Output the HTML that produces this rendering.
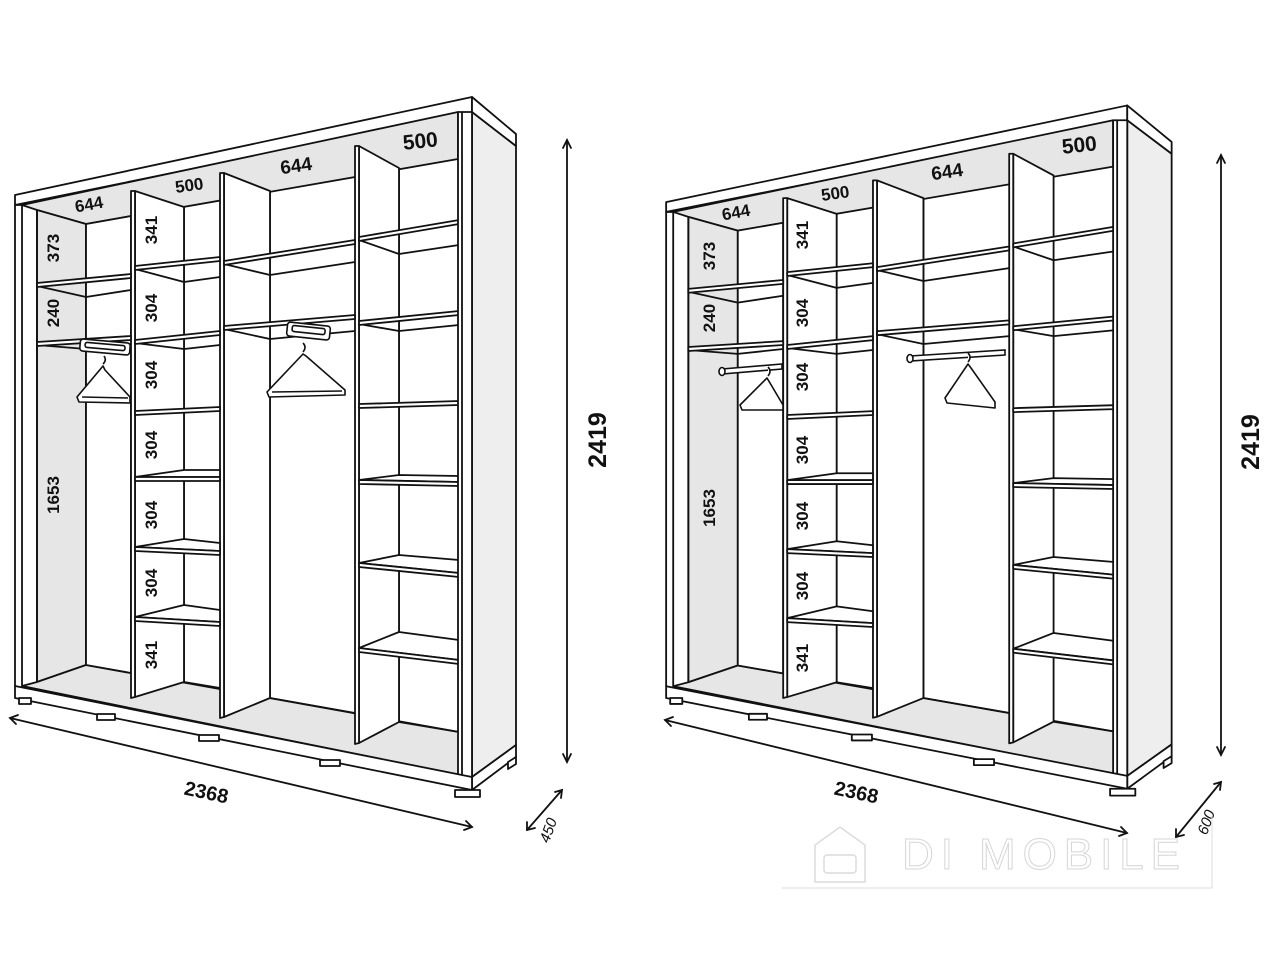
<!DOCTYPE html>
<html><head><meta charset="utf-8"><style>
html,body{margin:0;padding:0;background:#fff;}
svg{display:block;}
text{font-family:"Liberation Sans",sans-serif;font-weight:bold;fill:#111;}
</style></head><body>
<svg width="1280" height="960" viewBox="0 0 1280 960" xmlns="http://www.w3.org/2000/svg">
<defs>
<g id="w" stroke="#111" stroke-width="1.8" stroke-linejoin="round">
  <polygon points="472,112 516,146 516,745 472,777" fill="#eeeeee"/>
  <polygon points="472,777 516,745 516,757 472,790" fill="#fff"/>
  <polygon points="15,195 472,97 472,112 15,205" fill="#fff"/>
  <polygon points="472,97 516,134 516,146 472,112" fill="#fff"/>
  <polygon points="22,205 458,112 458,777 22,688" fill="#fff" stroke="none"/>
  <polygon points="22,205 458,112 458,159 86,224 37,210" fill="#e6e6e6"/>
  <polygon points="37,210 86,224 86,665 37,682" fill="#e6e6e6"/>
  <polygon points="22,686 37,682 86,665 459,732 459,775" fill="#e6e6e6"/>
  <polygon points="86,224 131,216 131,673 86,665" fill="#fff"/>
  <line x1="184" y1="207" x2="184" y2="682"/>
  <line x1="270" y1="191" x2="270" y2="698"/>
  <line x1="399" y1="168" x2="399" y2="722"/>
  <line x1="270" y1="698" x2="355" y2="713"/>
  <line x1="399" y1="722" x2="459" y2="732"/>
  <line x1="184" y1="682" x2="220" y2="688"/>
  <polygon points="15,205 22,205 22,688 15,686" fill="#fff"/>
  <line x1="37" y1="210" x2="37" y2="682"/>
  <polygon points="135,191 184,207 184,682 135,697" fill="#fff"/>
  <polygon points="131,191 135,191 135,697 131,698" fill="#fff"/>
  <polygon points="224,173 270,191 270,698 224,717" fill="#fff"/>
  <polygon points="220,173 224,173 224,717 220,718" fill="#fff"/>
  <polygon points="359,146 399,168 399,722 359,743" fill="#fff"/>
  <polygon points="355,146 359,146 359,743 355,744" fill="#fff"/>
  <g fill="#fff">
    <polyline points="37,286 86,297 131,290" fill="none"/>
    <polygon points="37,283 131,274 131,278 37,287"/>
    <polyline points="37,345 86,349 131,344" fill="none"/>
    <polygon points="37,342 131,336 131,340 37,346"/>
    <polyline points="135,269 184,282 220,277" fill="none"/>
    <polygon points="135,266 220,257 220,261 135,270"/>
    <polyline points="135,343 184,349 220,345" fill="none"/>
    <polygon points="135,340 220,331 220,335 135,344"/>
    <polygon points="135,411 220,407 220,411 135,415"/>
    <polyline points="224,264 270,275 355,262" fill="none"/>
    <polygon points="224,261 355,240 355,244 224,265"/>
    <polyline points="224,329 270,339 355,331" fill="none"/>
    <polygon points="224,326 355,315 355,319 224,330"/>
    <polyline points="359,240 399,254 459,245" fill="none"/>
    <polygon points="359,237 459,220 459,224 359,241"/>
    <polyline points="359,324 399,331 459,325" fill="none"/>
    <polygon points="359,321 459,311 459,315 359,325"/>
    <polygon points="359,404 459,401 459,405 359,408"/>
    <polygon points="135,477 184,470 220,470 220,477"/>
    <polygon points="135,477 220,477 220,481 135,481"/>
    <polygon points="135,547 184,539 220,543 220,551"/>
    <polygon points="135,547 220,551 220,555 135,551"/>
    <polygon points="135,617 184,605 220,610 220,622"/>
    <polygon points="135,617 220,622 220,626 135,621"/>
    <polygon points="359,480 399,475 459,476 459,482"/>
    <polygon points="359,480 459,482 459,486 359,484"/>
    <polygon points="359,563 399,555 459,560 459,573"/>
    <polygon points="359,563 459,573 459,577 359,567"/>
    <polygon points="359,648 399,632 459,640 459,660"/>
    <polygon points="359,648 459,660 459,664 359,652"/>
  </g>
  <polygon points="458,112 472,112 472,777 458,776" fill="#fff"/>
  <line x1="462" y1="112" x2="462" y2="776"/>
  <polygon points="15,686 472,777 472,790 15,698" fill="#fff"/>
  <g fill="#fff">
    <rect x="19" y="698" width="12" height="6"/>
    <rect x="97" y="714" width="18" height="6"/>
    <rect x="199" y="735" width="20" height="6"/>
    <rect x="320" y="760" width="20" height="6"/>
    <rect x="455" y="790" width="25" height="7"/>
    <polygon points="508,762 516,757 516,764 508,769"/>
  </g>
</g>
</defs>

<use href="#w"/>
<use href="#w" transform="matrix(1.009,0,0,0.986,651,9.8)"/>

<g stroke="#111" stroke-width="1.6" fill="#fff">
  <rect x="80" y="341" width="50" height="12" rx="3" transform="rotate(5 105 347)"/>
  <rect x="85" y="344" width="40" height="5" rx="2" transform="rotate(5 105 347)"/>
  <path d="M104,356 q3,4 -1,8 M103,366 L77,397 L79,402 L130,403 L130,397 L105,370 Z" stroke-linejoin="round"/>
  <line x1="82" y1="397" x2="128" y2="398"/>
  <rect x="287" y="324" width="43" height="14" rx="3" transform="rotate(6 308 331)"/>
  <rect x="292" y="327" width="33" height="6" rx="2" transform="rotate(6 308 331)"/>
  <path d="M303,343 q4,4 0,9 M303,354 L267,392 L269,397 L345,395 L345,390 L306,356 Z" stroke-linejoin="round"/>
  <line x1="272" y1="392" x2="342" y2="391"/>
</g>
<g stroke="#111" stroke-width="1.6" fill="#fff">
  <polygon points="722,369 782,364 782,369 722,374"/>
  <ellipse cx="722" cy="371.5" rx="3" ry="4"/>
  <path d="M768,367 q4,4 0,9 M767,378 L740,405 L742,410 L783,410 L783,405 L770,383 Z" stroke-linejoin="round"/>
  <polygon points="910,356 1005,350 1005,355 910,361"/>
  <ellipse cx="910" cy="358.5" rx="3" ry="4"/>
  <path d="M968,353 q4,4 0,9 M968,364 L945,398 L947,403 L995,408 L995,402 L971,368 Z" stroke-linejoin="round"/>
</g>

<g font-size="17">
  <text x="0" y="0" text-anchor="middle" transform="translate(90,210) rotate(-10)">644</text>
  <text x="0" y="0" text-anchor="middle" transform="translate(190,191) rotate(-8)">500</text>
  <text x="0" y="0" text-anchor="middle" font-size="19" transform="translate(297,172) rotate(-8)">644</text>
  <text x="0" y="0" text-anchor="middle" font-size="21" transform="translate(421,148) rotate(-6)">500</text>
  <text text-anchor="middle" transform="translate(59,248) rotate(-90)">373</text>
  <text text-anchor="middle" transform="translate(59,313) rotate(-90)">240</text>
  <text text-anchor="middle" transform="translate(59,495) rotate(-90)">1653</text>
  <text text-anchor="middle" transform="translate(157,230) rotate(-90)">341</text>
  <text text-anchor="middle" transform="translate(157,308) rotate(-90)">304</text>
  <text text-anchor="middle" transform="translate(157,375) rotate(-90)">304</text>
  <text text-anchor="middle" transform="translate(157,445) rotate(-90)">304</text>
  <text text-anchor="middle" transform="translate(157,515) rotate(-90)">304</text>
  <text text-anchor="middle" transform="translate(157,583) rotate(-90)">304</text>
  <text text-anchor="middle" transform="translate(157,655) rotate(-90)">341</text>
</g>
<g font-size="17">
  <text x="0" y="0" text-anchor="middle" transform="translate(737,218) rotate(-10)">644</text>
  <text x="0" y="0" text-anchor="middle" transform="translate(836,199) rotate(-8)">500</text>
  <text x="0" y="0" text-anchor="middle" font-size="19" transform="translate(948,178) rotate(-8)">644</text>
  <text x="0" y="0" text-anchor="middle" font-size="21" transform="translate(1080,152) rotate(-6)">500</text>
  <text text-anchor="middle" transform="translate(715,256) rotate(-90)">373</text>
  <text text-anchor="middle" transform="translate(715,318) rotate(-90)">240</text>
  <text text-anchor="middle" transform="translate(715,508) rotate(-90)">1653</text>
  <text text-anchor="middle" transform="translate(808,235) rotate(-90)">341</text>
  <text text-anchor="middle" transform="translate(808,313) rotate(-90)">304</text>
  <text text-anchor="middle" transform="translate(808,377) rotate(-90)">304</text>
  <text text-anchor="middle" transform="translate(808,450) rotate(-90)">304</text>
  <text text-anchor="middle" transform="translate(808,516) rotate(-90)">304</text>
  <text text-anchor="middle" transform="translate(808,586) rotate(-90)">304</text>
  <text text-anchor="middle" transform="translate(808,658) rotate(-90)">341</text>
</g>

<g stroke="#111" stroke-width="1.8" fill="none" stroke-linecap="round">
  <line x1="567" y1="140" x2="567" y2="762"/>
  <polyline points="563,148 567,140 571,148"/>
  <polyline points="563,754 567,762 571,754"/>
  <line x1="10" y1="718" x2="472" y2="827"/>
  <polyline points="18,715 10,718 16,724"/>
  <polyline points="466,821 472,827 464,830"/>
  <line x1="527" y1="830" x2="562" y2="790"/>
  <polyline points="527,822 527,830 535,828"/>
  <polyline points="555,792 562,790 561,798"/>
  <line x1="1221" y1="155" x2="1221" y2="755"/>
  <polyline points="1217,163 1221,155 1225,163"/>
  <polyline points="1217,747 1221,755 1225,747"/>
  <line x1="665" y1="720" x2="1127" y2="833"/>
  <polyline points="673,717 665,720 671,726"/>
  <polyline points="1121,827 1127,833 1119,836"/>
  <line x1="1176" y1="837" x2="1221" y2="782"/>
  <polyline points="1176,829 1176,837 1184,835"/>
  <polyline points="1214,784 1221,782 1220,790"/>
</g>
<text text-anchor="middle" font-size="25" transform="translate(606,440) rotate(-90)">2419</text>
<text text-anchor="middle" font-size="25" transform="translate(1259,442) rotate(-90)">2419</text>
<text text-anchor="middle" font-size="20" transform="translate(205,799) rotate(12)">2368</text>
<text text-anchor="middle" font-size="20" transform="translate(855,799) rotate(12)">2368</text>
<text text-anchor="middle" font-size="15" style="font-weight:normal;font-style:italic" transform="translate(553,832) rotate(-70)">450</text>
<text text-anchor="middle" font-size="15" style="font-weight:normal;font-style:italic" transform="translate(1211,824) rotate(-70)">600</text>

<g stroke="#dcdcdc" fill="none" stroke-width="1.5">
  <path d="M815,882 L815,845 L840,827 L865,845 L865,882 Z"/>
  <rect x="824" y="855" width="32" height="18" rx="3"/>
  <line x1="782" y1="888" x2="1212" y2="888" stroke-width="1"/>
  <line x1="1212" y1="815" x2="1212" y2="888" stroke-width="1"/>
</g>
<text x="902" y="869" font-size="44" textLength="278" lengthAdjust="spacing" style="font-weight:normal;fill:none;stroke:#d6d6d6;stroke-width:1">DI MOBILE</text>
</svg>
</body></html>
